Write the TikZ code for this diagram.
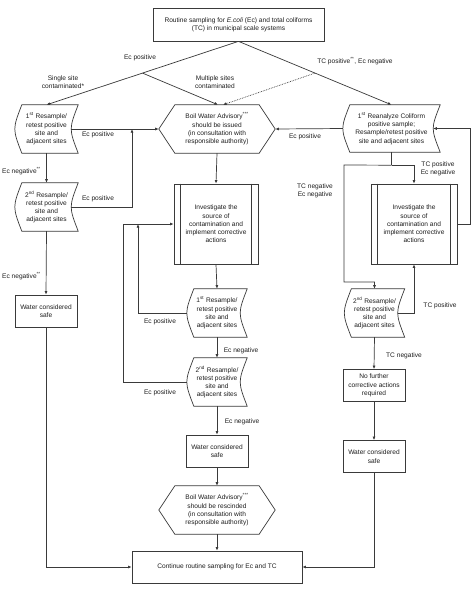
\documentclass[tikz,border=0pt]{standalone}
\usepackage{fontspec}
\setmainfont{Liberation Sans}
\usetikzlibrary{arrows.meta,calc}
\definecolor{linec}{HTML}{3A3A3A}
\definecolor{txtc}{HTML}{1E1E1E}
\newcommand\ft{\fontsize{6.6}{8.3}\selectfont}
\newcommand\sdshape[1]{\draw[ln] ([xshift=7pt]#1.north west) -- (#1.north east) .. controls ([xshift=-9.3pt]#1.east) .. (#1.south east) -- ([xshift=7pt]#1.south west) .. controls ([xshift=-2.3pt]#1.west) .. cycle;}
\newcommand\hexshape[1]{\draw[ln] (#1.west) -- ([xshift=16pt]#1.north west) -- ([xshift=-16pt]#1.north east) -- (#1.east) -- ([xshift=-16pt]#1.south east) -- ([xshift=16pt]#1.south west) -- cycle;}
\newcommand\ppshape[1]{\draw[ln] ([xshift=7pt]#1.north west) -- ([xshift=7pt]#1.south west); \draw[ln] ([xshift=-7pt]#1.north east) -- ([xshift=-7pt]#1.south east);}
\tikzset{
  ln/.style={draw=linec, line width=0.7pt},
  arr/.style={ln, -{Latex[length=3.6pt,width=3pt]}},
  txt/.style={font=\ft, text=txtc, align=center, inner sep=0pt},
  lbl/.style={txt},
  plainbox/.style={txt, draw=linec, line width=0.7pt},
  freebox/.style={txt, draw=none},
}
\begin{document}
\begin{tikzpicture}[x=1pt,y=-1pt]
\fill[white] (0,0) rectangle (474,590);
\useasboundingbox (0,0) rectangle (474,590);

% ---------- nodes ----------
\node[plainbox, minimum width=171pt, minimum height=33pt] (top) at (238.5,24.5)
  {Routine sampling for \textit{E.coli} (Ec) and total coliforms\\(TC) in municipal scale systems};

\node[freebox, minimum width=63pt, minimum height=48pt] (L1) at (46.5,129)
  {1\textsuperscript{st} Resample/\\retest positive\\site and\\adjacent sites};
\node[freebox, minimum width=63pt, minimum height=48pt] (L2) at (46.5,207)
  {2\textsuperscript{nd} Resample/\\retest positive\\site and\\adjacent sites};
\node[plainbox, minimum width=62pt, minimum height=32pt] (L3) at (46,311)
  {Water considered\\safe};

\node[freebox, minimum width=116pt, minimum height=48pt] (B1) at (217,129)
  {Boil Water Advisory\textsuperscript{***}\\should be issued\\(in consultation with\\responsible authority)};
\node[plainbox, minimum width=84pt, minimum height=80pt] (MI) at (216,224)
  {Investigate the\\source of\\contamination and\\implement corrective\\actions};
\node[freebox, minimum width=60pt, minimum height=48pt] (M1) at (217,313)
  {1\textsuperscript{st} Resample/\\retest positive\\site and\\adjacent sites};
\node[freebox, minimum width=60pt, minimum height=48pt] (M2) at (217,382)
  {2\textsuperscript{nd} Resample/\\retest positive\\site and\\adjacent sites};
\node[plainbox, minimum width=62pt, minimum height=32pt] (M3) at (217,451)
  {Water considered\\safe};
\node[freebox, minimum width=116pt, minimum height=48pt] (H2) at (217,510)
  {Boil Water Advisory\textsuperscript{***}\\should be rescinded\\(in consultation with\\responsible authority)};
\node[plainbox, minimum width=170pt, minimum height=32pt] (C) at (217,567)
  {Continue routine sampling for Ec and TC};

\node[freebox, minimum width=97pt, minimum height=47pt] (R1) at (391.5,128.5)
  {1\textsuperscript{st} Reanalyze Coliform\\positive sample;\\Resample/retest positive\\site and adjacent sites};
\node[plainbox, minimum width=86pt, minimum height=80pt] (RI) at (414,224)
  {Investigate the\\source of\\contamination and\\implement corrective\\actions};
\node[freebox, minimum width=60pt, minimum height=48pt] (R2) at (374.5,313)
  {2\textsuperscript{nd} Resample/\\retest positive\\site and\\adjacent sites};
\node[plainbox, minimum width=62pt, minimum height=32pt] (R3) at (374,385.5)
  {No further\\corrective actions\\required};
\node[plainbox, minimum width=62pt, minimum height=32pt] (R4) at (374,456.5)
  {Water considered\\safe};

% ---------- outlines ----------
\sdshape{L1}\sdshape{L2}\sdshape{M1}\sdshape{M2}\sdshape{R1}\sdshape{R2}
\hexshape{B1}\hexshape{H2}
\ppshape{MI}\ppshape{RI}

% ---------- connectors ----------
\coordinate (lm) at ($(top.south)!0.5!(L1.north)$);
\coordinate (rm) at ($(top.south)!0.5!(R1.north)$);
\draw[arr] (top.south) -- (L1.north);
\draw[arr] (top.south) -- (R1.north);
\draw[arr] (lm) -- ([xshift=1pt]B1.north);
\draw[arr, densely dotted] (rm) -- ([xshift=6pt]B1.north);

\draw[arr] ([xshift=-7pt]L1.east) -- (B1.west);
\draw[arr] (L1.south) -- (L2.north);
\coordinate (j1) at (132,129);
\draw[arr] ([xshift=-7pt]L2.east) -| (j1);
\draw[arr] (L2.south) -- (L3.north);
\draw[arr] (L3.south) |- (C.west);

\draw[arr] (B1.south) -- (MI.north);
\draw[arr] (MI.south) -- (M1.north);
\coordinate (j2) at (138,224);
\draw[arr] (M1.west) -| (j2);
\coordinate (k2) at (123,382);
\draw[arr] (M2.west) -- (k2) |- (MI.west);
\draw[arr] (M1.south) -- (M2.north);
\draw[arr] (M2.south) -- (M3.north);
\draw[arr] (M3.south) -- (H2.north);
\draw[arr] (H2.south) -- (C.north);

\draw[arr] (R1.west) -- (B1.east);
\draw[ln] (R1.south) -- ++(0,13) coordinate (s1);
\draw[arr] (s1) -| (RI.north);
\coordinate (s2) at (344,165);
\coordinate (s3) at (344,282);
\draw[arr] (s1) -- (s2) -- (s3) -| (R2.north);
\coordinate (s4) at (470,224);
\draw[arr] (RI.east) -- (s4) |- ([xshift=-7pt]R1.east);
\draw[arr] ([xshift=-7pt]R2.east) -| (RI.south);
\draw[arr] (R2.south) -- (R3.north);
\draw[arr] (R3.south) -- (R4.north);
\draw[arr] (R4.south) |- (C.east);

% ---------- labels ----------
\node[lbl] (t1) at (140,58) {Ec positive};
\node[lbl] (t2) at (63,82) {Single site\\contaminated*};
\node[lbl] (t3) at (215,82) {Multiple sites\\contaminated};
\node[lbl] (t4) at (355,61) {TC positive\textsuperscript{**}, Ec negative};
\node[lbl] (t5) at (98,135) {Ec positive};
\node[lbl, anchor=west] (t6) at (2,171) {Ec negative\textsuperscript{**}};
\node[lbl] (t7) at (98,199) {Ec positive};
\node[lbl, anchor=west] (t8) at (2,276) {Ec negative\textsuperscript{**}};
\node[lbl] (t9) at (305,137) {Ec positive};
\node[lbl] (t10) at (315,191) {TC negative\\Ec negative};
\node[lbl] (t11) at (438,169) {TC positive\\Ec negative};
\node[lbl] (t12) at (160,322) {Ec positive};
\node[lbl] (t13) at (241,351) {Ec negative};
\node[lbl] (t14) at (160,393) {Ec positive};
\node[lbl] (t15) at (242,422) {Ec negative};
\node[lbl] (t16) at (440,306) {TC positive};
\node[lbl] (t17) at (404,356) {TC negative};
\end{tikzpicture}
\end{document}
